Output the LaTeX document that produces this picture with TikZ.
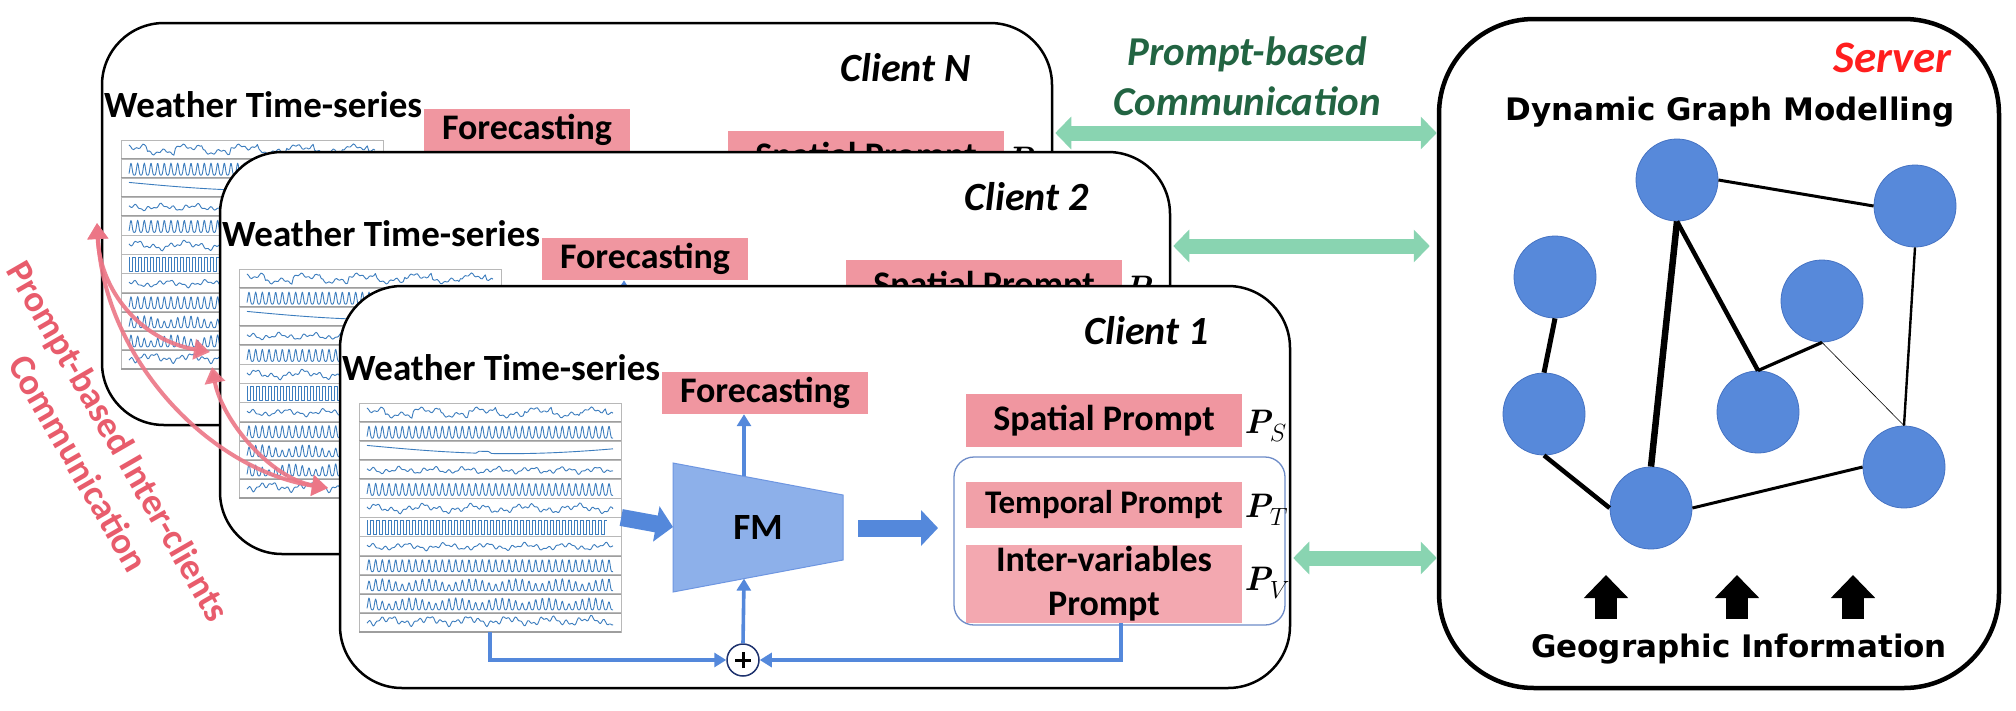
\documentclass[tikz,border=0pt]{standalone}
\usepackage{amsmath}
\usepackage{fontspec}
\setmainfont{Carlito}
\newfontfamily\srvfont{DejaVu Sans}
\newfontfamily\lmrfont{Latin Modern Roman}
\usetikzlibrary{arrows.meta,calc}
\newcommand\myfs[2]{\fontsize{#1pt}{#2pt}\selectfont}
\newcommand\boldP[1]{{\lmrfont\bfseries\itshape P}\kern-1pt$_{#1}$}
\definecolor{blueA}{RGB}{84,136,219}
\definecolor{fmfill}{RGB}{141,176,234}
\definecolor{fmdraw}{RGB}{110,150,225}
\definecolor{pinkA}{RGB}{240,150,160}
\definecolor{pinkB}{RGB}{241,160,168}
\definecolor{pinkC}{RGB}{243,168,176}
\definecolor{innerc}{RGB}{110,140,200}
\definecolor{navyc}{RGB}{30,50,110}
\definecolor{greenA}{RGB}{137,212,177}
\definecolor{greenT}{RGB}{34,100,66}
\definecolor{redT}{RGB}{232,92,108}
\definecolor{redA}{RGB}{236,118,134}
\definecolor{srvred}{RGB}{255,30,30}
\definecolor{nodeblue}{RGB}{87,137,218}
\definecolor{nodeborder}{RGB}{70,115,195}
\definecolor{tsblue}{RGB}{60,125,190}

\newcommand\tsrows{%
 \foreach \k in {0,...,11}{%
   \draw[black!28, line width=0.8pt] (0,19.08*\k) rectangle (262,19.08*\k+19.08);
   \draw[black!38, line width=1.8pt] (0,19.08*\k+19.08) -- (262,19.08*\k+19.08);}
 \draw[sig] plot[domain=8:254,samples=160] (\x,{9.5-2.5*sign(sin(\x*6.5+10))-2*sin(\x*19)-1.2*sin(\x*53)});
 \begin{scope}[shift={(0,19.08)}]\draw[sig] plot[domain=8:254,samples=400] (\x,{16-12*abs(sin(\x*27))^4});\end{scope}
 \begin{scope}[shift={(0,38.16)}]\draw[sig] plot[domain=8:254,samples=80] (\x,{3.5+9*sin(\x*0.6)-2*(\x>120)*(\x<130)});\end{scope}
 \begin{scope}[shift={(0,57.24)}]\draw[sig] plot[domain=8:254,samples=200] (\x,{10-1.8*sin(\x*11)-1.5*sin(\x*29+10)-1*sin(\x*57)});\end{scope}
 \begin{scope}[shift={(0,76.32)}]\draw[sig] plot[domain=8:254,samples=400] (\x,{16-12*abs(sin(\x*27))^4});\end{scope}
 \begin{scope}[shift={(0,95.4)}]\draw[sig] plot[domain=8:254,samples=200] (\x,{10-2.5*sin(\x*7)-2*sin(\x*23+50)-1.2*sin(\x*59)});\end{scope}
 \begin{scope}[shift={(0,114.48)}]\draw[sig] (8,3) \foreach \j in {0,...,39}{ -- ++(0,14) -- ++(3,0) -- ++(0,-14) -- ++(3,0)};\end{scope}
 \begin{scope}[shift={(0,133.56)}]\draw[sig] plot[domain=8:254,samples=200] (\x,{10-2*sin(\x*9+30)-1.5*sin(\x*31)-1*sin(\x*57+20)});\end{scope}
 \begin{scope}[shift={(0,152.64)}]\draw[sig] plot[domain=8:254,samples=400] (\x,{16-12*abs(sin(\x*27))^4});\end{scope}
 \begin{scope}[shift={(0,171.72)}]\draw[sig] plot[domain=8:254,samples=400] (\x,{16-(6+6*abs(sin(\x*4)))*abs(sin(\x*27))^4});\end{scope}
 \begin{scope}[shift={(0,190.8)}]\draw[sig] plot[domain=8:254,samples=400] (\x,{16-(6+6*abs(sin(\x*4+60)))*abs(sin(\x*27))^4});\end{scope}
 \begin{scope}[shift={(0,209.88)}]\draw[sig] plot[domain=8:254,samples=200] (\x,{8+2.5*sin(\x*9)+2*sin(\x*29)+1.5*sin(\x*57)});\end{scope}
}

\newcommand\clientpanel[3]{%
\begin{scope}[shift={(#1)}]
 \node[clientbox] (cbox#2) at (815,487) {};
 \node[anchor=base east, inner sep=0pt, font=\myfs{40}{44}\bfseries\itshape] (clab#2) at (1209,344) {#3};
 \node[anchor=base west, inner sep=0pt, font=\myfs{37}{40}\bfseries] (wts#2) at (342,380) {Weather Time-series};
 \node[inner sep=0pt, minimum width=262pt, minimum height=229pt] (ts#2) at (490,517.5) {};
 \begin{scope}[shift={(359,403)}]\tsrows\end{scope}
 \node[pinkbox, fill=pinkA, minimum width=206pt, minimum height=42pt] (fc#2) at (765,393) {Forecasting};
 \draw[fill=fmfill, draw=fmdraw, line width=1pt] (673,463) -- (843,495) -- (843,560) -- (673,592) -- cycle;
 \node[inner sep=0pt, font=\myfs{37}{40}\bfseries] (fm#2) at (758,527) {FM};
 \coordinate (fmL#2) at (673,527);
 \coordinate (fmT#2) at (744,476.4);
 \coordinate (fmB#2) at (744,578.6);
 \coordinate (fmR#2) at (858,528);
 \coordinate (bar#2) at (938,528);
 \draw[bluearrow] (fmT#2) -- (fmT#2 |- fc#2.south);
 \draw[bigarrow] (ts#2.east) -- (fmL#2);
 \draw[bigarrow] (fmR#2) -- (bar#2);
 \node[draw=innerc, line width=1.3pt, rounded corners=20pt, minimum width=331pt, minimum height=168pt, inner sep=0pt] (ib#2) at (1119.5,541) {};
 \node[pinkbox, fill=pinkA, minimum width=276pt, minimum height=53pt] (sp#2) at (1104,420.5) {Spatial Prompt};
 \node[pinkbox, fill=pinkB, minimum width=276pt, minimum height=46pt, font=\myfs{33}{36}\bfseries] (tp#2) at (1104,505) {Temporal Prompt};
 \node[pinkbox, fill=pinkC, minimum width=276pt, minimum height=78pt, align=center, font=\myfs{36}{44}\bfseries] (iv#2) at (1104,584) {Inter-variables\\Prompt};
 \node[anchor=base west, inner sep=0pt, font=\myfs{34}{36}] (ps#2) at (1244,433) {\boldP{S}};
 \node[anchor=base west, inner sep=0pt, font=\myfs{34}{36}] (pt#2) at (1244,517) {\boldP{T}};
 \node[anchor=base west, inner sep=0pt, font=\myfs{34}{36}] (pv#2) at (1244,590) {\boldP{V}};
 \node[circle, draw=navyc, fill=white, line width=1.5pt, minimum size=32pt, inner sep=0pt] (plus#2) at (743,660) {};
 \draw[line width=3pt] ([xshift=-8pt]plus#2.center) -- ([xshift=8pt]plus#2.center);
 \draw[line width=3pt] ([yshift=-8pt]plus#2.center) -- ([yshift=8pt]plus#2.center);
 \draw[bluearrow] (ts#2.south) |- (plus#2.west);
 \draw[bluearrow] ([xshift=17pt]iv#2.south) |- (plus#2.east);
 \draw[bluearrow] (plus#2.north) -- (fmB#2);
\end{scope}}

\begin{document}
\begin{tikzpicture}[x=1pt,y=-1pt,
 clientbox/.style={draw=black, line width=2.5pt, fill=white, rounded corners=62pt, minimum width=950pt, minimum height=402pt, inner sep=0pt},
 pinkbox/.style={inner sep=0pt, font=\myfs{36}{40}\bfseries},
 sig/.style={draw=tsblue, line width=0.9pt, line join=round},
 bluearrow/.style={draw=blueA, line width=3.6pt, -{Triangle[width=14pt,length=12pt]}},
 bigarrow/.style={draw=blueA, line width=17pt, -{Triangle[width=35pt,length=17pt]}},
 greenarr/.style={draw=greenA, line width=15pt, {Triangle[width=32pt,length=16pt]}-{Triangle[width=32pt,length=16pt]}},
 redarr/.style={draw=redA, line width=4pt, {Triangle[width=20pt,length=16pt]}-{Triangle[width=20pt,length=16pt]}},
 blkarrow/.style={draw=black, line width=22pt, -{Triangle[width=43pt,length=23pt]}},
 gnode/.style={circle, fill=nodeblue, draw=nodeborder, line width=0.8pt, minimum size=82pt, inner sep=0pt},
 gedge/.style={draw=black}
]
\useasboundingbox (0,0) rectangle (2016,710);

\clientpanel{-238,-263}{N}{Client N}
\clientpanel{-120,-134}{2}{Client 2}
\clientpanel{0,0}{1}{Client 1}

% server
\node[draw=black, line width=4.5pt, fill=white, rounded corners=95pt, minimum width=560pt, minimum height=669pt, inner sep=0pt] (srv) at (1719,353.5) {};
\node[anchor=base east, inner sep=0pt, text=srvred, font=\myfs{45}{50}\bfseries\itshape] (srvlab) at (1952,72) {Server};
\node[anchor=base, inner sep=0pt, font=\srvfont\myfs{31}{36}\bfseries] (dgm) at (1730,120) {Dynamic Graph Modelling};
\node[anchor=base, inner sep=0pt, font=\srvfont\myfs{31}{36}\bfseries] (geo) at (1739,657) {Geographic Information};

\node[gnode] (g1) at (1677,180) {};
\node[gnode] (g2) at (1915,206) {};
\node[gnode] (g3) at (1555,277) {};
\node[gnode] (g4) at (1822,301) {};
\node[gnode] (g5) at (1544,414) {};
\node[gnode] (g6) at (1758,412) {};
\node[gnode] (g7) at (1904,467) {};
\node[gnode] (g8) at (1651,508) {};
\draw[gedge, line width=3pt] (g1.east) -- (g2.west);
\draw[gedge, line width=6.5pt] (g1.south) -- (g8.north);
\draw[gedge, line width=4.5pt] (g1.south) -- (g6.north);
\draw[gedge, line width=5pt] (g3.south) -- (g5.north);
\draw[gedge, line width=4.5pt] (g5.south) -- (g8.west);
\draw[gedge, line width=3pt] (g8.east) -- (g7.west);
\draw[gedge, line width=2.4pt] (g2.south) -- (g7.north);
\draw[gedge, line width=3.2pt] (g4.south) -- (g6.north);
\draw[gedge, line width=0.6pt] (g4.south) -- (g7.north);

\coordinate (b1s) at (1606,619); \coordinate (b1e) at (1606,575);
\coordinate (b2s) at (1737,619); \coordinate (b2e) at (1737,575);
\coordinate (b3s) at (1853,619); \coordinate (b3e) at (1853,575);
\draw[blkarrow] (b1s) -- (b1e);
\draw[blkarrow] (b2s) -- (b2e);
\draw[blkarrow] (b3s) -- (b3e);

% green communication
\coordinate (gaN) at ($(cboxN.east)+(2,-91)$);
\coordinate (ga2) at ($(cbox2.east)+(2,-107)$);
\coordinate (ga1) at ($(cbox1.east)+(2,71)$);
\draw[greenarr] (gaN) -- (gaN -| srv.west);
\draw[greenarr] (ga2) -- ([xshift=-7pt]ga2 -| srv.west);
\draw[greenarr] (ga1) -- (ga1 -| srv.west);
\node[anchor=base, inner sep=0pt, text=greenT, font=\myfs{41}{50}\bfseries\itshape] (pb1) at (1247,65) {Prompt-based};
\node[anchor=base, inner sep=0pt, text=greenT, font=\myfs{41}{50}\bfseries\itshape] (pb2) at (1247,115) {Communication};

% red inter-client communication
\coordinate (rN) at (97,223);
\coordinate (r2) at (210,352);
\coordinate (r2b) at (212,367);
\coordinate (r1) at (328,488);
\draw[redarr, draw opacity=0.9] (rN) .. controls (100,290) and (140,340) .. (r2);
\draw[redarr, draw opacity=0.9] (rN) .. controls (105,360) and (210,470) .. (r1);
\draw[redarr, draw opacity=0.9] (r2b) .. controls (222,420) and (270,478) .. (r1);
\node[rotate=-60, align=center, text=redT, inner sep=0pt, font=\myfs{37}{46}\bfseries] (rtxt) at (99,452) {Prompt-based Inter-clients\\Communication};
\end{tikzpicture}
\end{document}
